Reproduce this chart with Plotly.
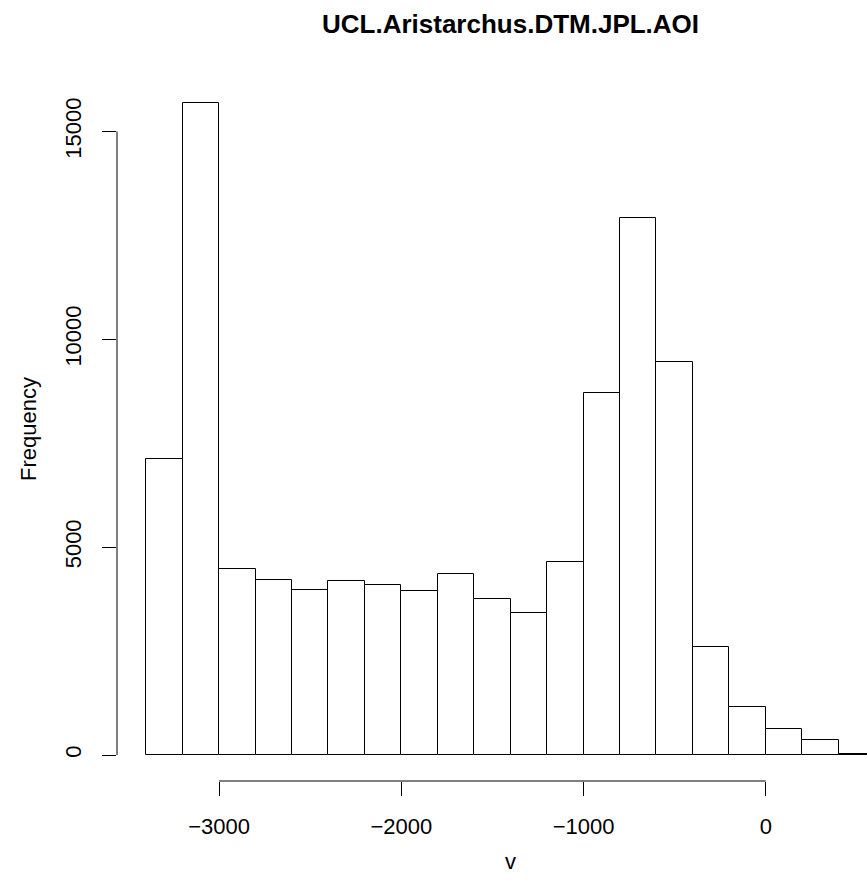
import plotly.graph_objects as go

# Histogram data (bin edges every 200)
bin_left = [-3400, -3200, -3000, -2800, -2600, -2400, -2200, -2000, -1800, -1600,
            -1400, -1200, -1000, -800, -600, -400, -200, 0, 200, 400]
counts = [7110, 15690, 4466, 4217, 3968, 4177, 4081, 3952, 4361, 3759,
          3415, 4642, 8714, 12907, 9452, 2605, 1154, 625, 360, 25]
bin_width = 200
x_ticks = [-3000, -2000, -1000, 0]
x_ticklabels = ["\u22123000", "\u22122000", "\u22121000", "0"]
y_ticks = [0, 5000, 10000, 15000]
y_ticklabels = ["0", "5000", "10000", "15000"]

title = "UCL.Aristarchus.DTM.JPL.AOI"
font_family = "Liberation Sans, Arial, sans-serif"

centers = [b + bin_width / 2 for b in bin_left]
x_mid = (bin_left[0] + bin_left[-1] + bin_width) / 2  # centre of the full plotting region

fig = go.Figure()
fig.add_trace(go.Bar(
    x=centers, y=counts, width=bin_width,
    marker=dict(color="white", line=dict(color="black", width=1)),
    showlegend=False, hoverinfo="x+y",
))

fig.update_layout(
    width=867, height=892,
    margin=dict(l=117, r=0, t=77, b=111),
    paper_bgcolor="white", plot_bgcolor="white",
    font=dict(family=font_family, size=22, color="black"),
    bargap=0,
    xaxis=dict(range=[-3560, 555], showgrid=False, zeroline=False, showline=False,
               tickmode="array", tickvals=x_ticks, ticktext=x_ticklabels,
               ticks="outside", ticklen=14, tickwidth=1, tickcolor="black",
               ticklabelstandoff=12, tickfont=dict(size=22)),
    yaxis=dict(range=[-625, 16310], showgrid=False, zeroline=False, showline=False,
               tickmode="array", tickvals=y_ticks, ticktext=y_ticklabels,
               ticks="outside", ticklen=14, tickwidth=1, tickcolor="black",
               tickangle=-90, ticklabelstandoff=12, tickfont=dict(size=22)),
    shapes=[
        dict(type="line", xref="x", yref="paper", x0=x_ticks[0], x1=x_ticks[-1], y0=0, y1=0,
             line=dict(color="black", width=1)),
        dict(type="line", xref="paper", yref="y", x0=0, x1=0, y0=y_ticks[0], y1=y_ticks[-1],
             line=dict(color="black", width=1)),
    ],
    annotations=[
        dict(text="<b>" + title + "</b>", xref="x", yref="paper", x=x_mid, y=1,
             yshift=53, showarrow=False, font=dict(size=26), xanchor="center", yanchor="middle"),
        dict(text="Frequency", xref="paper", yref="paper", x=0, xshift=-89, xanchor="center",
             y=0.5, yanchor="middle", showarrow=False, textangle=-90, font=dict(size=22)),
        dict(text="v", xref="x", yref="paper", x=x_mid, y=0, yshift=-80, showarrow=False,
             font=dict(size=22), xanchor="center", yanchor="middle"),
    ],
)

fig.write_html("out.html")
